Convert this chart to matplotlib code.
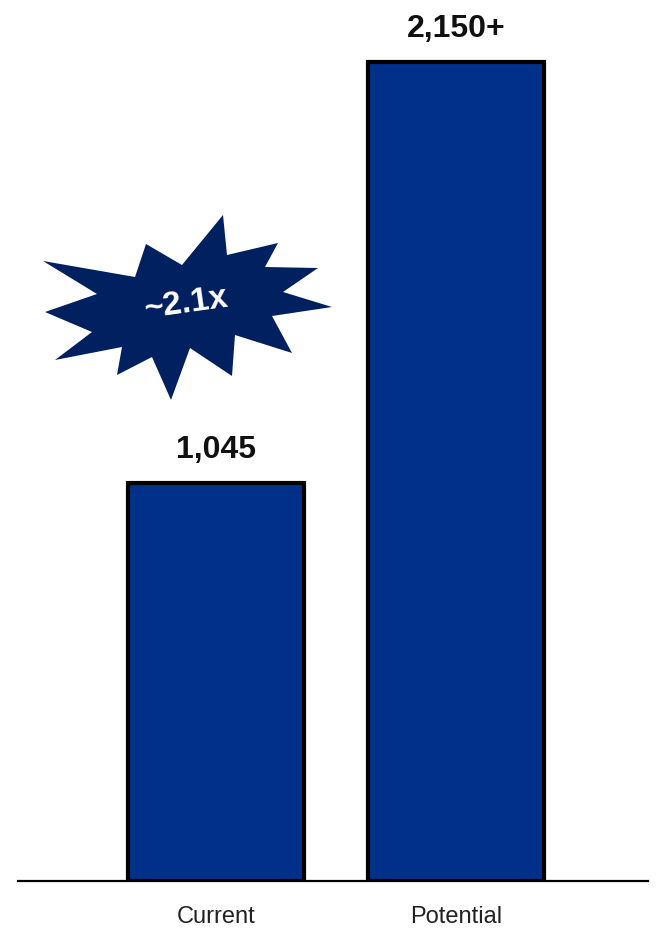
import matplotlib
matplotlib.use("Agg")
import matplotlib.pyplot as plt
from matplotlib.patches import Polygon

# data
categories = ["Current", "Potential"]
values = [1045, 2150]
value_labels = ["1,045", "2,150+"]
badge_text = "~2.1x"

bar_color = "#00308A"
star_color = "#002060"

plt.rcParams['font.family'] = ['Liberation Sans', 'DejaVu Sans']

W, H = 656, 931
fig = plt.figure(figsize=(W / 100, H / 100), dpi=100)
ax = fig.add_axes([18 / W, 50 / H, 630 / W, 881 / H])

x = list(range(len(categories)))
ax.bar(x, values, width=0.73, color=bar_color, edgecolor="black", linewidth=3, zorder=2)

for xi, v, lab in zip(x, values, value_labels):
    ax.annotate(lab, (xi, v), xytext=(0, 13), textcoords="offset points",
                ha="center", va="bottom", fontsize=23, fontweight="bold", color="#111111")

ax.set_xlim(-0.825, 1.8)
ax.set_ylim(0, 2312)
ax.set_xticks(x)
ax.set_xticklabels(categories, fontsize=17, color="#222222")
ax.tick_params(axis="x", length=0, pad=18)
ax.set_yticks([])
for s in ["top", "right", "left"]:
    ax.spines[s].set_visible(False)
ax.spines["bottom"].set_linewidth(1.6)
ax.spines["bottom"].set_zorder(3)

# starburst badge (outline in pixel coords, top-left origin)
star_px = [(43, 261), (135, 277), (146, 244), (182, 265), (223, 215), (227, 255),
           (278, 243), (265, 267), (318, 268), (283, 292), (332, 307), (272, 316),
           (292, 353), (235, 335), (232, 376), (190, 348), (171, 400), (152, 357),
           (117, 375), (122, 347), (55, 360), (92, 332), (45, 312), (97, 294)]
star_fig = [(px / W, 1 - py / H) for px, py in star_px]
fig.patches.append(Polygon(star_fig, closed=True, transform=fig.transFigure,
                           facecolor=star_color, edgecolor="none", zorder=5))
fig.text(186 / W, 1 - 304 / H, badge_text, ha="center", va="center", fontsize=24,
         fontweight="bold", color="white", rotation=8, zorder=6)

fig.savefig("out.png", dpi=100)
